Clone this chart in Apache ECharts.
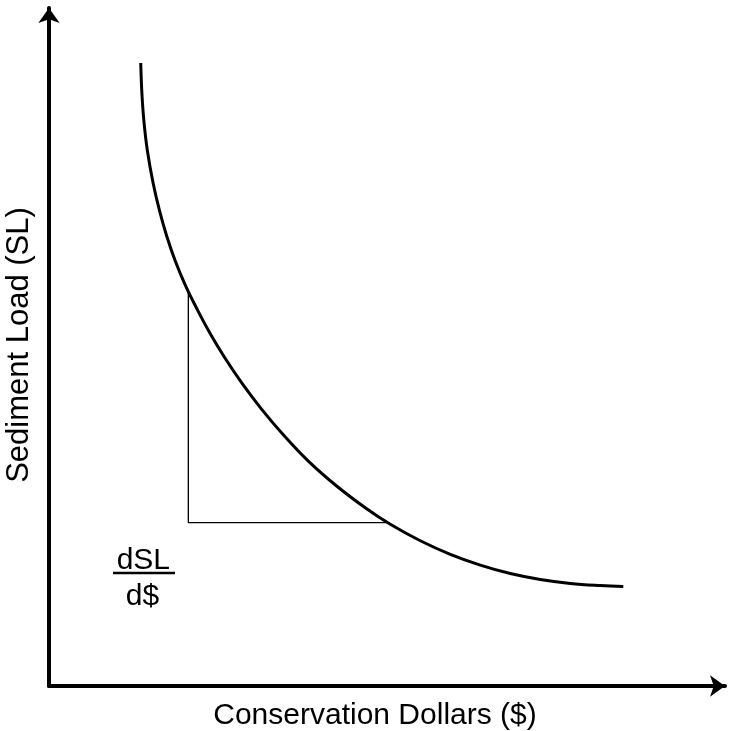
<!DOCTYPE html>
<html>
<head>
<meta charset="utf-8">
<script src="https://cdn.jsdelivr.net/npm/echarts@6/dist/echarts.min.js"></script>
<style>html,body{margin:0;padding:0;background:#fff}#c{width:735px;height:731px}</style>
</head>
<body>
<div id="c"></div>
<script>
// Curve: sediment load vs conservation dollars (relative units 0-100)
const curveX = [13.57, 13.74, 14.04, 14.56, 15.40, 16.36, 17.41, 18.68, 20.16, 21.94, 23.86, 26.08, 28.59, 31.41,
  34.66, 38.36, 42.50, 46.94, 50.49, 54.93, 59.36, 63.80, 68.24, 72.68, 77.12, 81.55, 84.96];
const curveY = [91.89, 87.46, 83.33, 78.91, 74.19, 70.06, 66.37, 62.68, 59.14, 55.52, 51.96, 48.30, 44.59, 40.88,
  37.05, 33.17, 29.54, 26.18, 23.85, 21.42, 19.42, 17.83, 16.59, 15.71, 15.13, 14.82, 14.69];
// Slope triangle
const triX = [20.61, 20.61, 50.44];
const triY = [58.0, 24.09, 24.09];
// Fraction label
const fracLineX = [9.47, 18.64];
const fracLineY = [16.67, 16.67];
const numerator = {x: 13.96, y: 18.51, text: 'dSL'};
const denominator = {x: 13.83, y: 13.13, text: 'd$'};
const xTitle = 'Conservation Dollars ($)';
const yTitle = 'Sediment Load (SL)';

const font = 'Liberation Sans, Arial, sans-serif';
const chart = echarts.init(document.getElementById('c'));
const axisCommon = {
  type: 'value', min: 0, max: 100,
  splitLine: {show: false}, axisTick: {show: false}, axisLabel: {show: false},
  axisLine: {show: true, symbol: ['none', 'arrow'], symbolSize: [16, 15],
    lineStyle: {color: '#000', width: 4}},
  nameLocation: 'middle'
};
chart.setOption({
  animation: false,
  grid: {left: 49, right: 10, top: 8, bottom: 45, outerBoundsMode: 'none', containLabel: false},
  xAxis: Object.assign({}, axisCommon, {name: xTitle, nameGap: 15,
    nameTextStyle: {color: '#000', fontSize: 30, fontFamily: font, padding: [0, 24, 0, 0]}}),
  yAxis: Object.assign({}, axisCommon, {name: yTitle, nameGap: 14,
    nameTextStyle: {color: '#000', fontSize: 31, fontFamily: font, padding: [0, 0, 0, 4]}}),
  series: [
    {type: 'line', data: curveX.map((x, i) => [x, curveY[i]]), smooth: 0.4,
      showSymbol: false, lineStyle: {color: '#000', width: 3}},
    {type: 'line', data: triX.map((x, i) => [x, triY[i]]), showSymbol: false,
      lineStyle: {color: '#000', width: 1.3}},
    {type: 'line', data: fracLineX.map((x, i) => [x, fracLineY[i]]), showSymbol: false,
      lineStyle: {color: '#000', width: 2.5}},
    {type: 'scatter', symbolSize: 0, itemStyle: {opacity: 1},
      data: [numerator, denominator].map(d => ({value: [d.x, d.y], name: d.text})),
      label: {show: true, position: 'inside', formatter: p => p.name, color: '#000',
        fontSize: 30, fontFamily: font}}
  ]
});
</script>
</body>
</html>
